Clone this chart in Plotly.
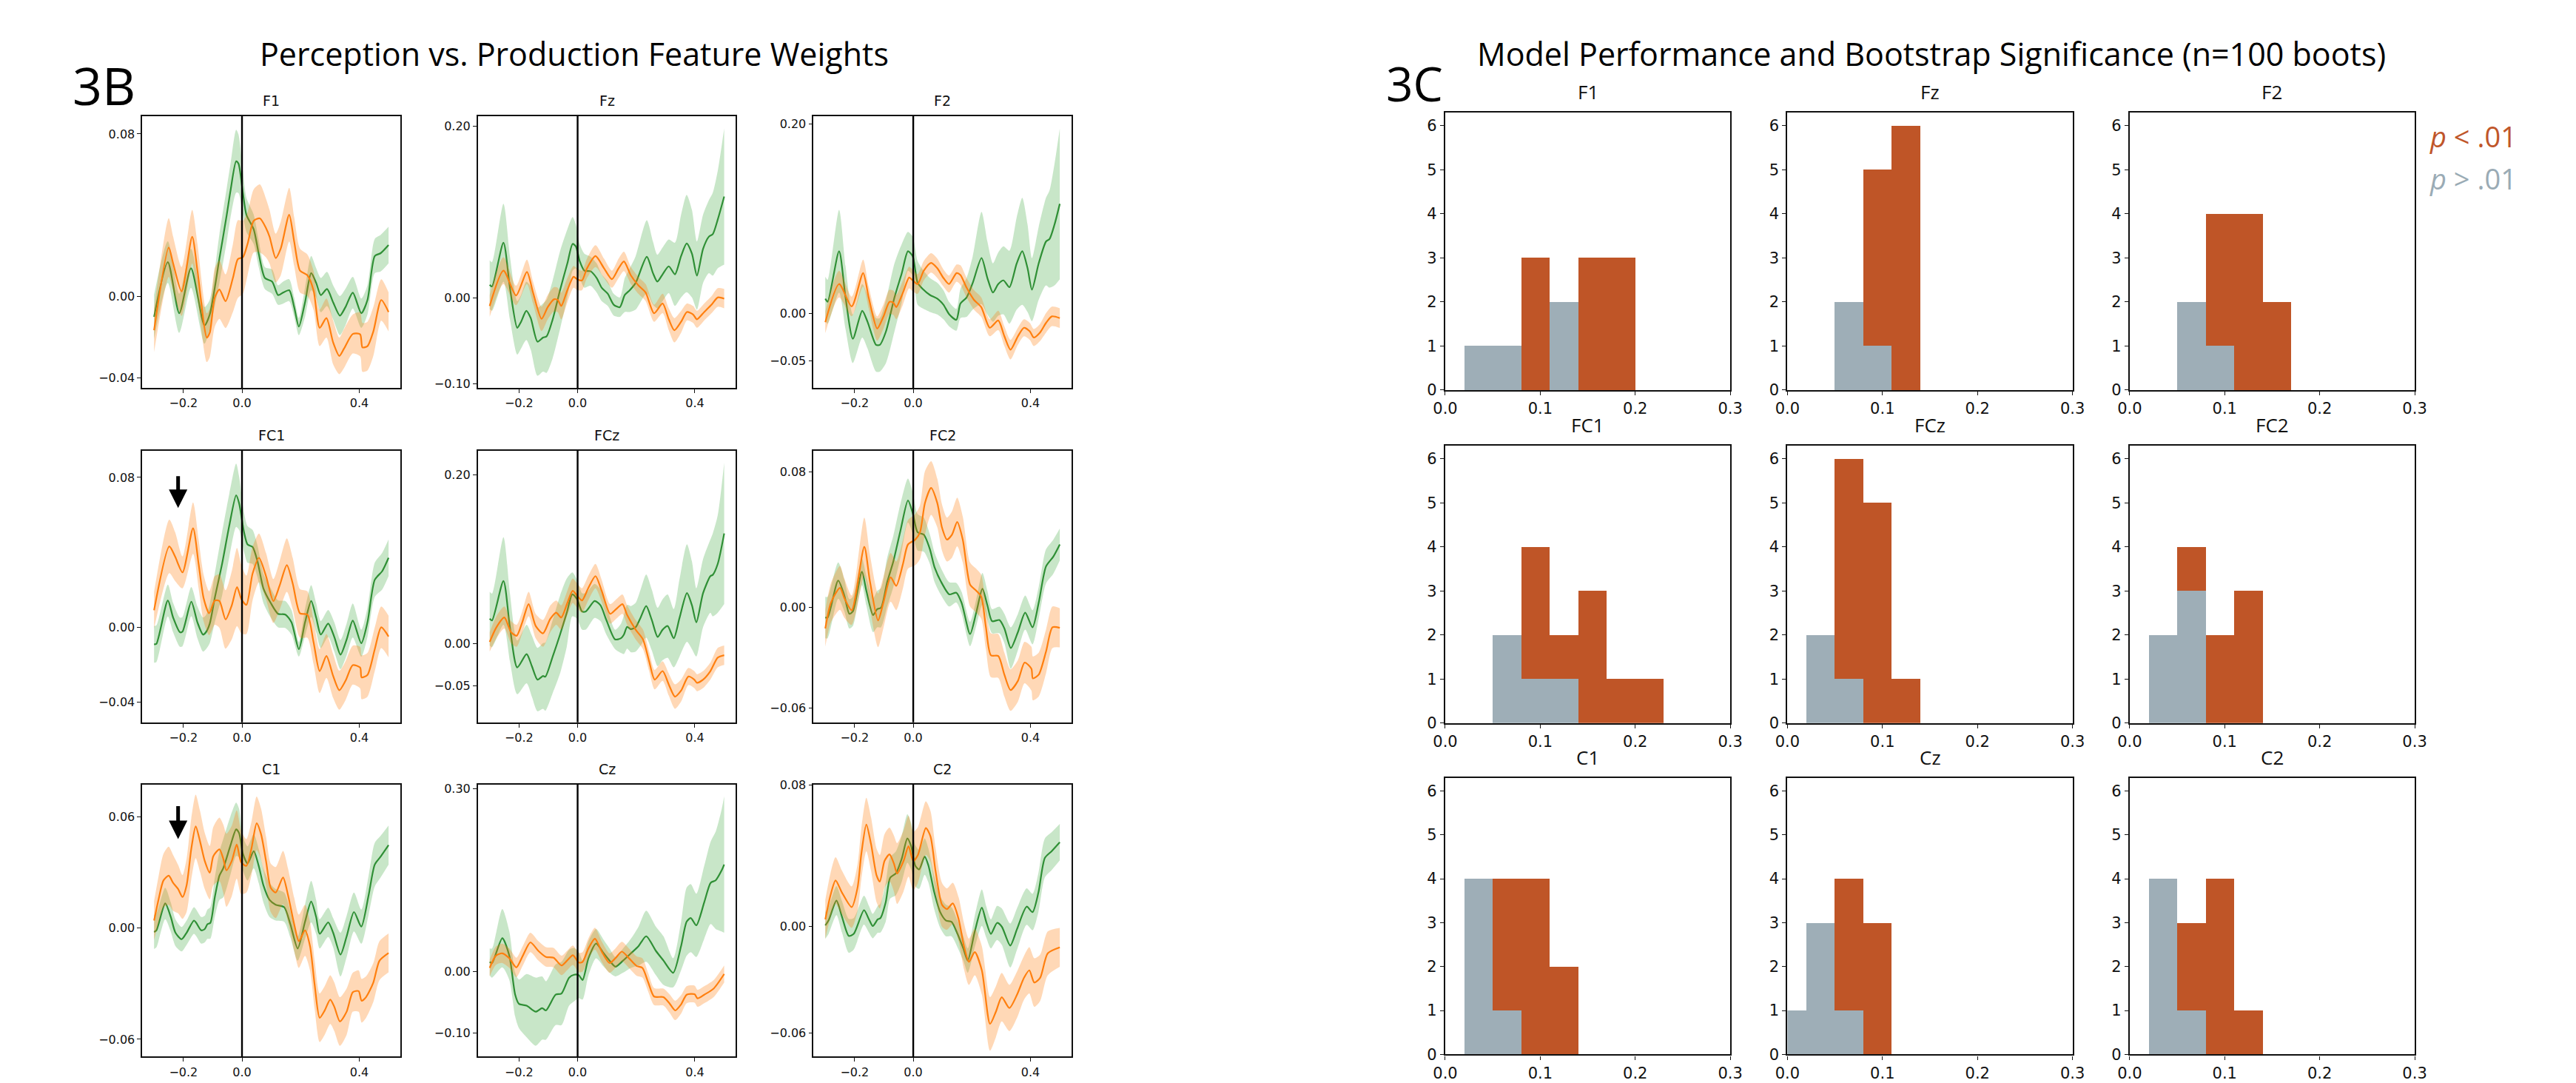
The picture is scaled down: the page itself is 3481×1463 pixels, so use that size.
import numpy as np
import plotly.graph_objects as go

# ---------------- 3B: feature weights (green and orange traces, mean and half-width of band) ----------------
F1_green_t = [-0.300,-0.253,-0.214,-0.174,-0.128,-0.110,-0.077,-0.052,-0.039,-0.020,-0.012,0.003,0.015,0.040,0.057,0.078,0.103,0.123,0.140,0.161,0.178,0.194,0.215,0.236,0.253,0.269,0.290,0.311,0.334,0.353,0.378,0.407,0.428,0.453,0.473,0.500]
F1_green = [-0.0099,0.0170,-0.0081,0.0140,-0.0141,-0.0087,0.0188,0.0403,0.0523,0.0666,0.0654,0.0511,0.0403,0.0331,0.0212,0.0092,0.0074,0.0008,0.0020,0.0032,-0.0051,-0.0147,-0.0028,0.0116,0.0068,0.0008,0.0038,-0.0028,-0.0093,-0.0051,0.0020,-0.0081,-0.0016,0.0200,0.0214,0.0254]
F1_green_hw = [0.0108,0.0102,0.0096,0.0096,0.0090,0.0072,0.0120,0.0132,0.0132,0.0155,0.0144,0.0108,0.0084,0.0072,0.0066,0.0054,0.0060,0.0048,0.0054,0.0054,0.0048,0.0042,0.0072,0.0084,0.0072,0.0084,0.0084,0.0084,0.0096,0.0090,0.0078,0.0072,0.0072,0.0084,0.0090,0.0090]
F1_orange_t = [-0.300,-0.250,-0.235,-0.206,-0.170,-0.152,-0.120,-0.110,-0.093,-0.077,-0.056,-0.031,-0.014,0.003,0.019,0.040,0.061,0.082,0.094,0.115,0.132,0.161,0.178,0.198,0.223,0.244,0.265,0.288,0.311,0.332,0.348,0.378,0.403,0.411,0.428,0.448,0.475,0.500]
F1_orange = [-0.0165,0.0242,0.0164,0.0026,0.0295,0.0128,-0.0201,-0.0177,-0.0004,0.0035,-0.0022,0.0092,0.0185,0.0194,0.0260,0.0373,0.0385,0.0337,0.0295,0.0190,0.0236,0.0403,0.0271,0.0128,0.0106,0.0032,-0.0153,-0.0105,-0.0225,-0.0291,-0.0255,-0.0183,-0.0185,-0.0249,-0.0243,-0.0171,-0.0016,-0.0075]
F1_orange_hw = [0.0108,0.0144,0.0132,0.0120,0.0132,0.0132,0.0120,0.0120,0.0144,0.0144,0.0132,0.0167,0.0191,0.0179,0.0155,0.0155,0.0167,0.0144,0.0132,0.0120,0.0132,0.0132,0.0120,0.0108,0.0102,0.0096,0.0090,0.0096,0.0108,0.0090,0.0096,0.0096,0.0108,0.0120,0.0120,0.0120,0.0102,0.0096]

Fz_green_t = [-0.300,-0.292,-0.253,-0.231,-0.206,-0.193,-0.175,-0.160,-0.137,-0.118,-0.106,-0.085,-0.060,-0.035,-0.017,-0.006,0.007,0.023,0.044,0.065,0.082,0.103,0.123,0.144,0.161,0.178,0.198,0.236,0.257,0.272,0.290,0.311,0.332,0.353,0.372,0.390,0.407,0.428,0.448,0.461,0.478,0.500]
Fz_green = [0.0156,0.0136,0.0646,0.0122,-0.0346,-0.0275,-0.0147,-0.0232,-0.0507,-0.0459,-0.0445,-0.0246,0.0093,0.0405,0.0632,0.0603,0.0433,0.0320,0.0314,0.0235,0.0122,0.0051,-0.0076,-0.0105,0.0037,0.0093,0.0178,0.0482,0.0292,0.0193,0.0278,0.0371,0.0278,0.0490,0.0637,0.0518,0.0263,0.0575,0.0717,0.0745,0.0915,0.1184]
Fz_green_hw = [0.0283,0.0283,0.0453,0.0368,0.0312,0.0312,0.0340,0.0368,0.0397,0.0397,0.0425,0.0453,0.0453,0.0397,0.0312,0.0255,0.0198,0.0198,0.0170,0.0170,0.0156,0.0142,0.0127,0.0113,0.0198,0.0255,0.0312,0.0425,0.0368,0.0312,0.0312,0.0312,0.0368,0.0482,0.0567,0.0510,0.0397,0.0397,0.0425,0.0482,0.0567,0.0793]
Fz_orange_t = [-0.300,-0.253,-0.210,-0.173,-0.152,-0.123,-0.102,-0.081,-0.068,-0.056,-0.035,-0.014,-0.002,0.015,0.032,0.061,0.090,0.117,0.140,0.158,0.182,0.207,0.232,0.261,0.290,0.311,0.330,0.353,0.373,0.394,0.407,0.432,0.457,0.478,0.500]
Fz_orange = [-0.0091,0.0320,0.0031,0.0306,0.0065,-0.0241,-0.0105,-0.0014,-0.0020,-0.0091,0.0093,0.0249,0.0221,0.0207,0.0348,0.0490,0.0348,0.0221,0.0348,0.0428,0.0263,0.0150,0.0065,-0.0176,-0.0062,-0.0246,-0.0374,-0.0275,-0.0161,-0.0190,-0.0246,-0.0161,-0.0076,0.0008,-0.0006]
Fz_orange_hw = [0.0127,0.0156,0.0113,0.0142,0.0127,0.0142,0.0142,0.0142,0.0142,0.0156,0.0142,0.0127,0.0127,0.0113,0.0113,0.0127,0.0113,0.0099,0.0113,0.0113,0.0099,0.0099,0.0099,0.0099,0.0113,0.0127,0.0142,0.0127,0.0099,0.0099,0.0099,0.0099,0.0099,0.0108,0.0113]

F2_green_t = [-0.300,-0.292,-0.253,-0.231,-0.206,-0.174,-0.156,-0.127,-0.114,-0.093,-0.064,-0.039,-0.018,-0.002,0.015,0.032,0.057,0.082,0.103,0.123,0.147,0.161,0.182,0.203,0.233,0.253,0.272,0.290,0.308,0.328,0.353,0.372,0.390,0.405,0.428,0.453,0.465,0.482,0.500]
F2_green = [0.0156,0.0123,0.0656,0.0169,-0.0267,0.0028,-0.0087,-0.0331,-0.0331,-0.0190,0.0169,0.0426,0.0656,0.0605,0.0323,0.0259,0.0195,0.0156,0.0092,-0.0010,-0.0067,0.0105,0.0169,0.0323,0.0585,0.0374,0.0221,0.0310,0.0349,0.0277,0.0528,0.0656,0.0477,0.0251,0.0528,0.0759,0.0785,0.0938,0.1156]
F2_green_hw = [0.0231,0.0231,0.0436,0.0333,0.0256,0.0282,0.0282,0.0282,0.0282,0.0333,0.0359,0.0308,0.0205,0.0205,0.0231,0.0205,0.0179,0.0167,0.0154,0.0128,0.0115,0.0154,0.0205,0.0282,0.0487,0.0385,0.0308,0.0333,0.0359,0.0385,0.0487,0.0564,0.0462,0.0333,0.0385,0.0462,0.0513,0.0641,0.0795]
F2_orange_t = [-0.300,-0.253,-0.210,-0.171,-0.152,-0.123,-0.102,-0.081,-0.068,-0.058,-0.035,-0.014,-0.002,0.015,0.036,0.061,0.082,0.103,0.122,0.148,0.161,0.182,0.207,0.232,0.261,0.290,0.311,0.332,0.357,0.378,0.398,0.411,0.432,0.453,0.473,0.500]
F2_orange = [-0.0092,0.0310,0.0074,0.0426,0.0169,-0.0159,-0.0036,0.0123,0.0113,0.0067,0.0221,0.0379,0.0349,0.0310,0.0451,0.0533,0.0477,0.0374,0.0310,0.0426,0.0405,0.0272,0.0144,0.0067,-0.0151,-0.0074,-0.0241,-0.0382,-0.0241,-0.0151,-0.0190,-0.0254,-0.0203,-0.0100,-0.0031,-0.0049]
F2_orange_hw = [0.0115,0.0141,0.0103,0.0141,0.0115,0.0128,0.0128,0.0128,0.0128,0.0128,0.0128,0.0115,0.0115,0.0103,0.0103,0.0103,0.0103,0.0090,0.0090,0.0090,0.0103,0.0103,0.0103,0.0103,0.0090,0.0103,0.0103,0.0103,0.0090,0.0090,0.0090,0.0090,0.0090,0.0103,0.0103,0.0103]

FC1_green_t = [-0.300,-0.292,-0.253,-0.235,-0.212,-0.203,-0.173,-0.152,-0.133,-0.123,-0.110,-0.093,-0.068,-0.043,-0.020,-0.010,0.007,0.019,0.036,0.053,0.073,0.098,0.123,0.148,0.169,0.194,0.215,0.236,0.253,0.269,0.294,0.315,0.336,0.357,0.378,0.407,0.428,0.453,0.478,0.500]
FC1_green = [-0.0091,-0.0088,0.0143,0.0052,-0.0026,-0.0023,0.0137,0.0026,-0.0039,-0.0026,0.0020,0.0156,0.0338,0.0546,0.0705,0.0663,0.0507,0.0442,0.0429,0.0351,0.0208,0.0130,0.0072,0.0068,0.0026,-0.0117,0.0026,0.0140,0.0052,-0.0039,0.0020,-0.0052,-0.0146,-0.0065,0.0036,-0.0085,0.0026,0.0254,0.0299,0.0371]
FC1_green_hw = [0.0098,0.0098,0.0085,0.0078,0.0078,0.0078,0.0078,0.0085,0.0091,0.0091,0.0104,0.0130,0.0169,0.0169,0.0169,0.0143,0.0104,0.0098,0.0091,0.0085,0.0078,0.0078,0.0072,0.0072,0.0065,0.0039,0.0072,0.0085,0.0078,0.0072,0.0072,0.0078,0.0078,0.0085,0.0091,0.0072,0.0078,0.0091,0.0098,0.0098]
FC1_orange_t = [-0.300,-0.248,-0.228,-0.203,-0.167,-0.148,-0.131,-0.112,-0.093,-0.077,-0.056,-0.035,-0.017,-0.002,0.015,0.036,0.058,0.082,0.107,0.128,0.153,0.173,0.198,0.223,0.244,0.265,0.288,0.311,0.332,0.353,0.378,0.403,0.408,0.428,0.453,0.475,0.500]
FC1_orange = [0.0091,0.0432,0.0377,0.0293,0.0529,0.0338,0.0156,0.0075,0.0143,0.0140,0.0042,0.0117,0.0215,0.0150,0.0120,0.0286,0.0371,0.0273,0.0140,0.0221,0.0332,0.0234,0.0074,0.0068,-0.0078,-0.0234,-0.0153,-0.0260,-0.0336,-0.0286,-0.0202,-0.0215,-0.0267,-0.0254,-0.0117,0.0000,-0.0049]
FC1_orange_hw = [0.0098,0.0143,0.0130,0.0085,0.0137,0.0130,0.0124,0.0117,0.0130,0.0143,0.0156,0.0182,0.0208,0.0182,0.0156,0.0143,0.0130,0.0124,0.0117,0.0130,0.0143,0.0137,0.0130,0.0124,0.0117,0.0117,0.0117,0.0117,0.0104,0.0104,0.0104,0.0111,0.0117,0.0117,0.0117,0.0111,0.0111]

FCz_green_t = [-0.300,-0.292,-0.253,-0.231,-0.206,-0.174,-0.156,-0.137,-0.118,-0.110,-0.085,-0.060,-0.037,-0.018,-0.002,0.015,0.028,0.058,0.078,0.098,0.128,0.148,0.158,0.169,0.182,0.198,0.215,0.234,0.253,0.273,0.290,0.307,0.328,0.348,0.373,0.390,0.405,0.428,0.453,0.461,0.478,0.500]
FCz_green = [0.0296,0.0276,0.0742,0.0196,-0.0279,-0.0121,-0.0265,-0.0423,-0.0380,-0.0388,-0.0150,0.0109,0.0368,0.0584,0.0527,0.0383,0.0383,0.0506,0.0455,0.0282,0.0052,0.0066,0.0109,0.0201,0.0173,0.0196,0.0311,0.0446,0.0282,0.0081,0.0167,0.0210,0.0066,0.0311,0.0599,0.0455,0.0253,0.0599,0.0800,0.0814,0.0944,0.1304]
FCz_green_hw = [0.0317,0.0317,0.0518,0.0403,0.0317,0.0345,0.0360,0.0374,0.0388,0.0403,0.0432,0.0460,0.0403,0.0259,0.0230,0.0216,0.0216,0.0201,0.0187,0.0173,0.0115,0.0173,0.0230,0.0259,0.0273,0.0288,0.0331,0.0374,0.0360,0.0345,0.0360,0.0374,0.0345,0.0460,0.0576,0.0518,0.0403,0.0403,0.0432,0.0489,0.0576,0.0835]
FCz_orange_t = [-0.300,-0.277,-0.250,-0.227,-0.208,-0.189,-0.167,-0.143,-0.118,-0.093,-0.073,-0.056,-0.035,-0.017,-0.002,0.015,0.036,0.061,0.082,0.111,0.132,0.153,0.169,0.198,0.223,0.244,0.263,0.290,0.311,0.332,0.353,0.378,0.398,0.407,0.428,0.453,0.478,0.500]
FCz_orange = [0.0023,0.0196,0.0311,0.0138,0.0095,0.0253,0.0469,0.0210,0.0124,0.0296,0.0368,0.0311,0.0483,0.0627,0.0570,0.0512,0.0656,0.0800,0.0627,0.0354,0.0412,0.0469,0.0340,0.0167,0.0052,-0.0207,-0.0423,-0.0322,-0.0481,-0.0624,-0.0553,-0.0386,-0.0423,-0.0460,-0.0423,-0.0322,-0.0164,-0.0135]
FCz_orange_hw = [0.0115,0.0130,0.0130,0.0130,0.0130,0.0130,0.0144,0.0144,0.0158,0.0158,0.0144,0.0144,0.0144,0.0144,0.0144,0.0144,0.0144,0.0144,0.0130,0.0115,0.0115,0.0115,0.0115,0.0115,0.0115,0.0115,0.0115,0.0115,0.0130,0.0144,0.0130,0.0101,0.0101,0.0101,0.0101,0.0101,0.0115,0.0115]

FC2_green_t = [-0.300,-0.292,-0.256,-0.235,-0.218,-0.206,-0.175,-0.160,-0.137,-0.123,-0.110,-0.089,-0.068,-0.043,-0.018,-0.002,0.015,0.036,0.057,0.073,0.098,0.123,0.147,0.165,0.194,0.215,0.236,0.253,0.269,0.294,0.311,0.333,0.357,0.382,0.407,0.428,0.453,0.478,0.500]
FC2_green = [-0.0062,-0.0062,0.0157,0.0068,-0.0040,-0.0026,0.0209,0.0097,-0.0048,-0.0012,-0.0004,0.0147,0.0270,0.0458,0.0632,0.0559,0.0443,0.0429,0.0342,0.0234,0.0140,0.0075,0.0085,0.0025,-0.0160,-0.0033,0.0108,0.0010,-0.0084,-0.0077,-0.0127,-0.0243,-0.0149,-0.0033,-0.0120,0.0025,0.0241,0.0299,0.0371]
FC2_green_hw = [0.0123,0.0123,0.0108,0.0094,0.0087,0.0087,0.0079,0.0087,0.0101,0.0108,0.0116,0.0144,0.0152,0.0159,0.0130,0.0123,0.0108,0.0101,0.0087,0.0087,0.0079,0.0072,0.0058,0.0065,0.0072,0.0079,0.0094,0.0087,0.0072,0.0079,0.0087,0.0123,0.0108,0.0101,0.0101,0.0094,0.0101,0.0101,0.0094]
FC2_orange_t = [-0.300,-0.281,-0.250,-0.235,-0.210,-0.167,-0.148,-0.120,-0.102,-0.077,-0.058,-0.035,-0.018,0.007,0.023,0.040,0.061,0.082,0.098,0.115,0.132,0.150,0.169,0.194,0.215,0.232,0.248,0.265,0.290,0.311,0.332,0.357,0.380,0.403,0.408,0.428,0.453,0.475,0.500]
FC2_orange = [-0.0127,0.0025,0.0114,0.0053,-0.0019,0.0357,0.0155,-0.0079,0.0025,0.0176,0.0126,0.0256,0.0371,0.0400,0.0443,0.0617,0.0706,0.0617,0.0472,0.0400,0.0429,0.0504,0.0400,0.0133,0.0097,0.0061,-0.0120,-0.0286,-0.0290,-0.0401,-0.0492,-0.0438,-0.0329,-0.0365,-0.0423,-0.0401,-0.0264,-0.0120,-0.0123]
FC2_orange_hw = [0.0108,0.0116,0.0130,0.0116,0.0087,0.0173,0.0159,0.0159,0.0152,0.0144,0.0144,0.0144,0.0144,0.0152,0.0159,0.0188,0.0159,0.0144,0.0137,0.0130,0.0137,0.0144,0.0137,0.0130,0.0130,0.0130,0.0130,0.0130,0.0130,0.0130,0.0123,0.0123,0.0123,0.0130,0.0130,0.0130,0.0130,0.0123,0.0116]

C1_green_t = [-0.300,-0.292,-0.262,-0.243,-0.227,-0.206,-0.189,-0.164,-0.156,-0.139,-0.127,-0.118,-0.108,-0.093,-0.077,-0.064,-0.039,-0.020,-0.010,0.003,0.019,0.040,0.057,0.073,0.094,0.115,0.144,0.165,0.190,0.215,0.236,0.253,0.265,0.294,0.311,0.336,0.357,0.382,0.407,0.432,0.453,0.473,0.500]
C1_green = [-0.0021,-0.0012,0.0133,0.0060,-0.0025,-0.0060,-0.0025,0.0041,0.0028,-0.0012,-0.0005,0.0021,0.0028,0.0165,0.0283,0.0323,0.0448,0.0533,0.0513,0.0402,0.0349,0.0415,0.0336,0.0231,0.0152,0.0126,0.0113,0.0021,-0.0110,0.0034,0.0143,0.0060,-0.0031,0.0031,-0.0025,-0.0143,-0.0045,0.0087,0.0008,0.0178,0.0343,0.0386,0.0448]
C1_green_hw = [0.0092,0.0092,0.0085,0.0079,0.0072,0.0066,0.0066,0.0072,0.0072,0.0072,0.0072,0.0079,0.0085,0.0105,0.0131,0.0157,0.0157,0.0144,0.0131,0.0092,0.0092,0.0092,0.0092,0.0092,0.0092,0.0085,0.0079,0.0072,0.0066,0.0092,0.0112,0.0092,0.0079,0.0079,0.0079,0.0118,0.0112,0.0105,0.0092,0.0105,0.0118,0.0112,0.0105]
C1_orange_t = [-0.300,-0.285,-0.268,-0.250,-0.235,-0.218,-0.203,-0.189,-0.173,-0.158,-0.143,-0.127,-0.110,-0.098,-0.077,-0.064,-0.053,-0.035,-0.018,-0.003,0.015,0.032,0.050,0.065,0.082,0.098,0.115,0.140,0.157,0.178,0.194,0.215,0.232,0.248,0.265,0.282,0.301,0.315,0.334,0.357,0.378,0.398,0.408,0.423,0.448,0.469,0.500]
C1_orange = [0.0041,0.0152,0.0257,0.0283,0.0244,0.0211,0.0168,0.0231,0.0428,0.0549,0.0467,0.0362,0.0299,0.0388,0.0425,0.0375,0.0312,0.0362,0.0451,0.0356,0.0336,0.0428,0.0566,0.0507,0.0362,0.0218,0.0192,0.0273,0.0178,0.0021,-0.0071,-0.0012,-0.0097,-0.0307,-0.0484,-0.0445,-0.0386,-0.0425,-0.0504,-0.0451,-0.0346,-0.0340,-0.0392,-0.0373,-0.0294,-0.0176,-0.0134]
C1_orange_hw = [0.0105,0.0125,0.0144,0.0157,0.0151,0.0131,0.0118,0.0144,0.0164,0.0171,0.0164,0.0151,0.0144,0.0157,0.0171,0.0184,0.0197,0.0190,0.0184,0.0171,0.0144,0.0144,0.0144,0.0138,0.0131,0.0131,0.0138,0.0144,0.0144,0.0144,0.0144,0.0138,0.0131,0.0131,0.0131,0.0131,0.0131,0.0131,0.0131,0.0125,0.0105,0.0112,0.0118,0.0112,0.0105,0.0105,0.0105]

Cz_green_t = [-0.300,-0.292,-0.257,-0.233,-0.213,-0.200,-0.174,-0.143,-0.121,-0.108,-0.075,-0.055,-0.029,-0.012,0.004,0.017,0.037,0.063,0.089,0.109,0.129,0.155,0.182,0.208,0.234,0.267,0.293,0.326,0.353,0.372,0.386,0.405,0.432,0.454,0.471,0.491,0.500]
Cz_green = [0.0163,0.0143,0.0550,0.0263,-0.0375,-0.0526,-0.0554,-0.0653,-0.0594,-0.0633,-0.0375,-0.0355,-0.0096,-0.0048,-0.0056,-0.0135,0.0223,0.0462,0.0303,0.0183,0.0084,0.0183,0.0303,0.0422,0.0582,0.0343,0.0183,-0.0016,0.0422,0.0821,0.0880,0.0761,0.1139,0.1458,0.1498,0.1657,0.1757]
Cz_green_hw = [0.0219,0.0239,0.0478,0.0398,0.0359,0.0398,0.0518,0.0558,0.0518,0.0478,0.0498,0.0518,0.0458,0.0438,0.0378,0.0319,0.0279,0.0239,0.0219,0.0199,0.0159,0.0199,0.0239,0.0319,0.0418,0.0398,0.0398,0.0239,0.0398,0.0558,0.0558,0.0518,0.0598,0.0677,0.0797,0.0996,0.1116]
Cz_orange_t = [-0.300,-0.279,-0.257,-0.233,-0.209,-0.187,-0.161,-0.134,-0.108,-0.082,-0.055,-0.036,-0.016,0.004,0.017,0.037,0.059,0.083,0.109,0.129,0.151,0.175,0.201,0.221,0.241,0.261,0.293,0.313,0.333,0.353,0.372,0.399,0.409,0.432,0.464,0.500]
Cz_orange = [0.0064,0.0263,0.0303,0.0223,0.0072,0.0263,0.0482,0.0343,0.0243,0.0231,0.0104,0.0183,0.0271,0.0151,0.0163,0.0382,0.0542,0.0323,0.0143,0.0223,0.0331,0.0223,0.0096,0.0064,-0.0175,-0.0406,-0.0414,-0.0514,-0.0633,-0.0534,-0.0375,-0.0367,-0.0434,-0.0375,-0.0275,-0.0036]
Cz_orange_hw = [0.0139,0.0151,0.0159,0.0159,0.0159,0.0159,0.0159,0.0159,0.0159,0.0159,0.0159,0.0159,0.0159,0.0159,0.0159,0.0167,0.0179,0.0167,0.0159,0.0159,0.0159,0.0159,0.0159,0.0159,0.0151,0.0139,0.0139,0.0151,0.0159,0.0151,0.0139,0.0139,0.0139,0.0139,0.0139,0.0139]

C2_green_t = [-0.300,-0.289,-0.262,-0.243,-0.220,-0.203,-0.168,-0.151,-0.138,-0.121,-0.112,-0.094,-0.079,-0.059,-0.039,-0.020,-0.007,0.007,0.020,0.039,0.052,0.072,0.092,0.112,0.131,0.151,0.171,0.186,0.210,0.234,0.249,0.265,0.286,0.302,0.331,0.354,0.387,0.407,0.427,0.449,0.472,0.500]
C2_green = [0.0007,0.0034,0.0147,0.0055,-0.0052,-0.0041,0.0093,0.0041,0.0003,0.0041,0.0048,0.0137,0.0275,0.0302,0.0385,0.0498,0.0454,0.0344,0.0323,0.0396,0.0344,0.0192,0.0082,0.0034,0.0027,-0.0041,-0.0124,-0.0192,-0.0027,0.0107,0.0027,-0.0041,0.0021,0.0000,-0.0107,-0.0014,0.0113,0.0082,0.0192,0.0388,0.0426,0.0477]
C2_green_hw = [0.0076,0.0076,0.0082,0.0089,0.0096,0.0089,0.0082,0.0076,0.0069,0.0076,0.0082,0.0110,0.0117,0.0124,0.0131,0.0137,0.0131,0.0117,0.0110,0.0103,0.0096,0.0096,0.0089,0.0089,0.0082,0.0076,0.0069,0.0069,0.0089,0.0103,0.0089,0.0082,0.0096,0.0103,0.0124,0.0117,0.0103,0.0103,0.0110,0.0110,0.0107,0.0103]
C2_orange_t = [-0.300,-0.282,-0.265,-0.243,-0.210,-0.190,-0.177,-0.160,-0.144,-0.125,-0.114,-0.098,-0.081,-0.066,-0.055,-0.033,-0.016,0.000,0.016,0.043,0.059,0.076,0.098,0.115,0.135,0.155,0.173,0.190,0.210,0.234,0.262,0.282,0.302,0.328,0.354,0.378,0.396,0.413,0.433,0.459,0.500]
C2_orange = [0.0041,0.0179,0.0261,0.0192,0.0110,0.0220,0.0412,0.0577,0.0467,0.0289,0.0254,0.0371,0.0408,0.0357,0.0300,0.0371,0.0454,0.0371,0.0405,0.0557,0.0509,0.0316,0.0124,0.0099,0.0131,0.0041,-0.0110,-0.0199,-0.0144,-0.0247,-0.0550,-0.0481,-0.0399,-0.0460,-0.0385,-0.0289,-0.0247,-0.0316,-0.0289,-0.0151,-0.0117]
C2_orange_hw = [0.0110,0.0124,0.0131,0.0124,0.0117,0.0131,0.0144,0.0151,0.0151,0.0151,0.0151,0.0151,0.0151,0.0158,0.0172,0.0172,0.0172,0.0165,0.0158,0.0151,0.0144,0.0131,0.0124,0.0117,0.0117,0.0124,0.0131,0.0131,0.0131,0.0137,0.0151,0.0144,0.0137,0.0131,0.0131,0.0124,0.0131,0.0137,0.0131,0.0124,0.0110]

electrodes = ['F1', 'Fz', 'F2', 'FC1', 'FCz', 'FC2', 'C1', 'Cz', 'C2']

# y tick values per 3B panel
B_yticks = {'F1': [-0.04, 0.00, 0.08], 'Fz': [-0.10, 0.00, 0.20], 'F2': [-0.05, 0.00, 0.20],
            'FC1': [-0.04, 0.00, 0.08], 'FCz': [-0.05, 0.00, 0.20], 'FC2': [-0.06, 0.00, 0.08],
            'C1': [-0.06, 0.00, 0.06], 'Cz': [-0.10, 0.00, 0.30], 'C2': [-0.06, 0.00, 0.08]}
B_xticks = [-0.2, 0.0, 0.4]

# ---------------- 3C: bootstrap histograms (bin left edges, counts) ----------------
bin_left = [-0.01, 0.02, 0.05, 0.08, 0.11, 0.14, 0.17, 0.20]
bin_width = 0.03
hist_nonsig = {'F1': [0, 1, 1, 0, 2, 0, 0, 0], 'Fz': [0, 0, 2, 1, 0, 0, 0, 0], 'F2': [0, 0, 2, 1, 0, 0, 0, 0],
               'FC1': [0, 0, 2, 1, 1, 0, 0, 0], 'FCz': [0, 2, 1, 0, 0, 0, 0, 0], 'FC2': [0, 2, 3, 0, 0, 0, 0, 0],
               'C1': [0, 4, 1, 0, 0, 0, 0, 0], 'Cz': [1, 3, 1, 0, 0, 0, 0, 0], 'C2': [0, 4, 1, 0, 0, 0, 0, 0]}
hist_sig = {'F1': [0, 0, 0, 3, 0, 3, 3, 0], 'Fz': [0, 0, 0, 4, 6, 0, 0, 0], 'F2': [0, 0, 0, 3, 4, 2, 0, 0],
            'FC1': [0, 0, 0, 3, 1, 3, 1, 1], 'FCz': [0, 0, 5, 5, 1, 0, 0, 0], 'FC2': [0, 0, 1, 2, 3, 0, 0, 0],
            'C1': [0, 0, 3, 4, 2, 0, 0, 0], 'Cz': [0, 0, 3, 3, 0, 0, 0, 0], 'C2': [0, 0, 2, 4, 1, 0, 0, 0]}
C_xticks = [0.0, 0.1, 0.2, 0.3]
C_yticks = [0, 1, 2, 3, 4, 5, 6]

# ---------------- styling / layout ----------------
W, H = 3481, 1463
GREEN_LINE = '#2f8f35'
GREEN_FILL = 'rgba(44,160,44,0.26)'
ORANGE_LINE = '#ff7f0e'
ORANGE_FILL = 'rgba(255,127,14,0.30)'
SIG = '#bf5527'
NONSIG = '#9eaeb7'
TICKFONT = 'DejaVu Sans, Verdana, sans-serif'
HEADFONT = 'Open Sans, Noto Sans, sans-serif'

B_cols = [(169, 521), (627, 979), (1085, 1437)]
B_rows = [(143, 515), (601, 973), (1058, 1431)]
C_cols = [(1947, 2336), (2414, 2803), (2881, 3270)]
C_rows = [(138, 518), (594, 974), (1049, 1428)]
B_yrange = {'F1': [-0.0448, 0.0887], 'Fz': [-0.1045, 0.2119], 'F2': [-0.0785, 0.208],
            'FC1': [-0.0507, 0.0943], 'FCz': [-0.0927, 0.2282], 'FC2': [-0.0683, 0.0927],
            'C1': [-0.0694, 0.0776], 'Cz': [-0.139, 0.307], 'C2': [-0.0735, 0.0804]}


def px_x(p):
    return p / W


def px_y(p):
    return 1 - p / H


def fmt(v, nd):
    s = f'{abs(v):.{nd}f}'
    return ('\u2212' + s) if v < 0 else s


fig = go.Figure()
annotations = []
shapes = []
layout_axes = {}


def add_band(t, m, hw, fill, xa, ya):
    n = min(len(t), len(m), len(hw))
    t = np.array(t[:n]); m = np.array(m[:n]); hw = np.array(hw[:n])
    fig.add_trace(go.Scatter(x=t, y=m - hw, mode='lines', line=dict(width=0, shape='spline', smoothing=0.7),
                             hoverinfo='skip', showlegend=False, xaxis=xa, yaxis=ya))
    fig.add_trace(go.Scatter(x=t, y=m + hw, mode='lines', line=dict(width=0, shape='spline', smoothing=0.7),
                             fill='tonexty', fillcolor=fill, hoverinfo='skip', showlegend=False, xaxis=xa, yaxis=ya))


def add_line(t, m, color, xa, ya):
    n = min(len(t), len(m))
    fig.add_trace(go.Scatter(x=t[:n], y=m[:n], mode='lines', line=dict(width=2.2, color=color, shape='spline', smoothing=0.7),
                             showlegend=False, xaxis=xa, yaxis=ya))


axis_common = dict(showline=True, mirror=True, linecolor='#111', linewidth=1.8, ticks='outside',
                   ticklen=5, tickwidth=1.4, tickcolor='#111', showgrid=False, zeroline=False)

for i, e in enumerate(electrodes):
    r, c = divmod(i, 3)
    g = globals()
    # ---- 3B panel ----
    n = i + 1
    xa, ya = ('x' if n == 1 else f'x{n}'), ('y' if n == 1 else f'y{n}')
    add_band(g[f'{e}_green_t'], g[f'{e}_green'], g[f'{e}_green_hw'], GREEN_FILL, xa, ya)
    add_line(g[f'{e}_green_t'], g[f'{e}_green'], GREEN_LINE, xa, ya)
    add_band(g[f'{e}_orange_t'], g[f'{e}_orange'], g[f'{e}_orange_hw'], ORANGE_FILL, xa, ya)
    add_line(g[f'{e}_orange_t'], g[f'{e}_orange'], ORANGE_LINE, xa, ya)
    x0, x1 = B_cols[c]; y0, y1 = B_rows[r]
    layout_axes['xaxis' if n == 1 else f'xaxis{n}'] = dict(
        axis_common, domain=[px_x(x0), px_x(x1)], anchor=ya, range=[-0.34, 0.54],
        tickvals=B_xticks, ticktext=[fmt(v, 1) for v in B_xticks], tickfont=dict(family=TICKFONT, size=16, color='#111'))
    yt = B_yticks[e]
    layout_axes['yaxis' if n == 1 else f'yaxis{n}'] = dict(
        axis_common, domain=[px_y(y1), px_y(y0)], anchor=xa, range=B_yrange[e],
        tickvals=yt, ticktext=[fmt(v, 2) for v in yt], tickfont=dict(family=TICKFONT, size=16, color='#111'))
    shapes.append(dict(type='line', xref=xa, yref=f'{ya} domain', x0=0, x1=0, y0=0, y1=1,
                       line=dict(color='black', width=2.4)))
    annotations.append(dict(text=e, x=px_x((x0 + x1) / 2), y=px_y(y0 - 8), xref='paper', yref='paper',
                            xanchor='center', yanchor='bottom', showarrow=False,
                            font=dict(family=TICKFONT, size=19, color='#111')))
    # ---- 3C panel ----
    m = i + 10
    xa2, ya2 = f'x{m}', f'y{m}'
    centers = [b + bin_width / 2 for b in bin_left]
    fig.add_trace(go.Bar(x=centers, y=hist_nonsig[e], width=bin_width, marker=dict(color=NONSIG, line=dict(width=0)),
                         showlegend=False, xaxis=xa2, yaxis=ya2))
    fig.add_trace(go.Bar(x=centers, y=hist_sig[e], width=bin_width, marker=dict(color=SIG, line=dict(width=0)),
                         showlegend=False, xaxis=xa2, yaxis=ya2))
    cx0, cx1 = C_cols[c]; cy0, cy1 = C_rows[r]
    layout_axes[f'xaxis{m}'] = dict(
        axis_common, domain=[px_x(cx0), px_x(cx1)], anchor=ya2, range=[0, 0.3], linewidth=2.2,
        tickvals=C_xticks, ticktext=[fmt(v, 1) for v in C_xticks], tickfont=dict(family=TICKFONT, size=21, color='#111'))
    layout_axes[f'yaxis{m}'] = dict(
        axis_common, domain=[px_y(cy1), px_y(cy0)], anchor=xa2, range=[0, 6.3], linewidth=2.2,
        tickvals=C_yticks, ticktext=[str(v) for v in C_yticks], tickfont=dict(family=TICKFONT, size=21, color='#111'))
    annotations.append(dict(text=e, x=px_x((cx0 + cx1) / 2), y=px_y(cy0 - 8), xref='paper', yref='paper',
                            xanchor='center', yanchor='bottom', showarrow=False,
                            font=dict(family=HEADFONT, size=26, color='#111')))

# arrows in FC1 and C1
arrow_t = -0.218
for ax_n, tail, tip in [(4, 0.0813, 0.0637), (7, 0.0664, 0.0480)]:
    annotations.append(dict(x=arrow_t, y=tip, ax=arrow_t, ay=tail, xref=f'x{ax_n}', yref=f'y{ax_n}',
                            axref=f'x{ax_n}', ayref=f'y{ax_n}', text='', showarrow=True,
                            arrowhead=2, arrowsize=1.0, arrowwidth=5, arrowcolor='black'))

# headings
annotations += [
    dict(text='Perception vs. Production Feature Weights', x=px_x(758), y=px_y(57), xref='paper', yref='paper',
         xanchor='center', yanchor='middle', showarrow=False, font=dict(family=HEADFONT, size=43, color='black')),
    dict(text='Model Performance and Bootstrap Significance (n=100 boots)', x=px_x(2611), y=px_y(57),
         xref='paper', yref='paper', xanchor='center', yanchor='middle', showarrow=False,
         font=dict(family=HEADFONT, size=43, color='black')),
    dict(text='3B', x=px_x(72), y=px_y(100), xref='paper', yref='paper', xanchor='left', yanchor='middle',
         showarrow=False, font=dict(family=HEADFONT, size=70, color='black')),
    dict(text='3C', x=px_x(1864), y=px_y(98), xref='paper', yref='paper', xanchor='left', yanchor='middle',
         showarrow=False, font=dict(family=HEADFONT, size=64, color='black')),
    dict(text='<i>p</i> &lt; .01', x=px_x(3288), y=px_y(170), xref='paper', yref='paper', xanchor='left',
         yanchor='middle', showarrow=False, font=dict(family=HEADFONT, size=38, color='#c0562a')),
    dict(text='<i>p</i> &gt; .01', x=px_x(3288), y=px_y(228), xref='paper', yref='paper', xanchor='left',
         yanchor='middle', showarrow=False, font=dict(family=HEADFONT, size=38, color='#9aabb5')),
]

fig.update_layout(width=W, height=H, margin=dict(l=0, r=0, t=0, b=0), paper_bgcolor='white', plot_bgcolor='white',
                  barmode='stack', bargap=0, showlegend=False, annotations=annotations, shapes=shapes, **layout_axes)
fig.write_html('out.html')
